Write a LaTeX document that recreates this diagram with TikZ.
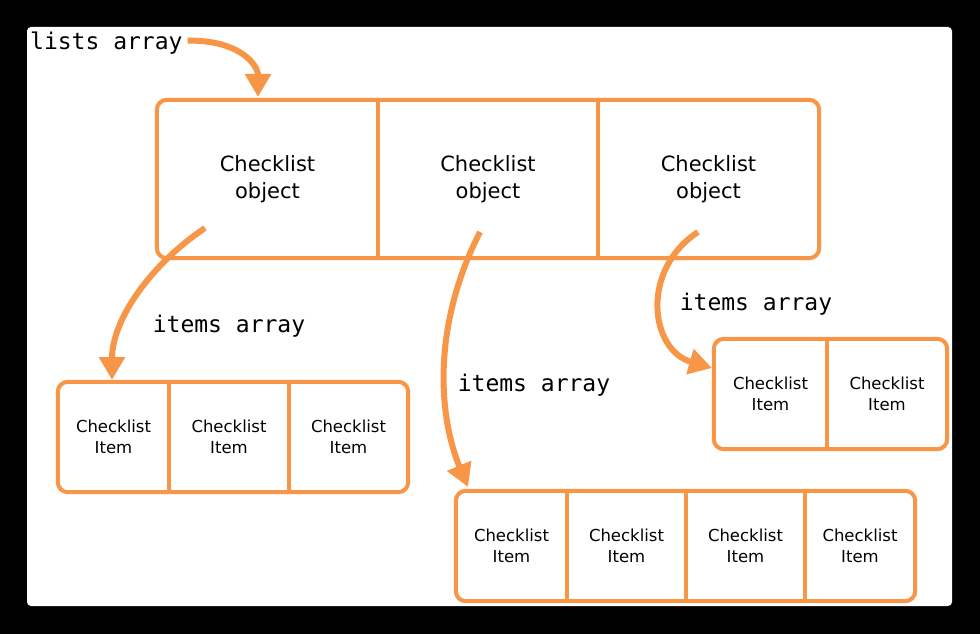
\documentclass[tikz,border=0pt]{standalone}
\usepackage{fontspec}
\setmainfont{DejaVu Sans}
\setmonofont{DejaVu Sans Mono}
\usetikzlibrary{arrows.meta}
\definecolor{orange}{HTML}{F79646}

\begin{document}
\begin{tikzpicture}[x=1pt,y=-1pt,
  frame/.style={draw=orange,line width=4pt,rounded corners=10pt},
  divider/.style={draw=orange,line width=4pt},
  objcell/.style={inner sep=0pt,minimum height=158pt,align=center,font=\fontsize{21}{27}\selectfont,execute at begin node=\vspace*{6pt}},
  itemcell/.style={inner sep=0pt,minimum height=110pt,align=center,font=\fontsize{16.5}{21}\selectfont,execute at begin node=\vspace*{4pt}},
  label/.style={inner sep=0pt,anchor=base,font=\ttfamily\fontsize{23}{27}\selectfont},
  ptr/.style={draw=orange,line width=6pt,-{Triangle[length=23pt,width=25pt]}}]
  \fill[black] (0,0) rectangle (980,634);
  \fill[white,rounded corners=4pt] (27,27) rectangle (952,606);
  \begin{scope}
  \clip[rounded corners=4pt] (27,27) rectangle (952,606);
  % lists array
  \node[label,anchor=base west] (lists) at (30,49) {lists array};
  \node[objcell,minimum width=221pt] (o1) at (267.5,179) {Checklist\\object};
  \node[objcell,minimum width=220pt] (o2) at (488,179) {Checklist\\object};
  \node[objcell,minimum width=221pt] (o3) at (708.5,179) {Checklist\\object};
  \draw[frame] (o1.north west) rectangle (o3.south east);
  \draw[divider] (o1.north east) -- (o1.south east);
  \draw[divider] (o2.north east) -- (o2.south east);
  % items of first object
  \node[itemcell,minimum width=111pt] (a1) at (113.5,437) {Checklist\\Item};
  \node[itemcell,minimum width=120pt] (a2) at (229,437) {Checklist\\Item};
  \node[itemcell,minimum width=119pt] (a3) at (348.5,437) {Checklist\\Item};
  \draw[frame] (a1.north west) rectangle (a3.south east);
  \draw[divider] (a1.north east) -- (a1.south east);
  \draw[divider] (a2.north east) -- (a2.south east);
  % items of second object
  \node[itemcell,minimum width=111pt] (b1) at (511.5,546) {Checklist\\Item};
  \node[itemcell,minimum width=119pt] (b2) at (626.5,546) {Checklist\\Item};
  \node[itemcell,minimum width=119pt] (b3) at (745.5,546) {Checklist\\Item};
  \node[itemcell,minimum width=110pt] (b4) at (860,546) {Checklist\\Item};
  \draw[frame] (b1.north west) rectangle (b4.south east);
  \draw[divider] (b1.north east) -- (b1.south east);
  \draw[divider] (b2.north east) -- (b2.south east);
  \draw[divider] (b3.north east) -- (b3.south east);
  % items of third object
  \node[itemcell,minimum width=113pt] (c1) at (770.5,394) {Checklist\\Item};
  \node[itemcell,minimum width=120pt] (c2) at (887,394) {Checklist\\Item};
  \draw[frame] (c1.north west) rectangle (c2.south east);
  \draw[divider] (c1.north east) -- (c1.south east);
  % labels
  \node[label] (la) at (229,332) {items array};
  \node[label] (lb) at (534,391) {items array};
  \node[label] (lc) at (756,310) {items array};
  % pointers
  \coordinate (s0) at ([xshift=5pt,yshift=2pt]lists.east);
  \coordinate (s1) at (205,228);
  \coordinate (s2) at (480,232);
  \coordinate (s3) at (698,232);
  \coordinate (t0) at (258,97);
  \coordinate (t1) at (112,380);
  \coordinate (t2) at (468,487);
  \coordinate (t3) at (712,368);
  \draw[ptr] (s0) .. controls (240,40) and (258,65) .. (t0);
  \draw[ptr] (s1) .. controls (150,265) and (112,320) .. (t1);
  \draw[ptr] (s2) .. controls (430,330) and (440,420) .. (t2);
  \draw[ptr] (s3) .. controls (640,270) and (650,350) .. (t3);
  \end{scope}
\end{tikzpicture}
\end{document}
